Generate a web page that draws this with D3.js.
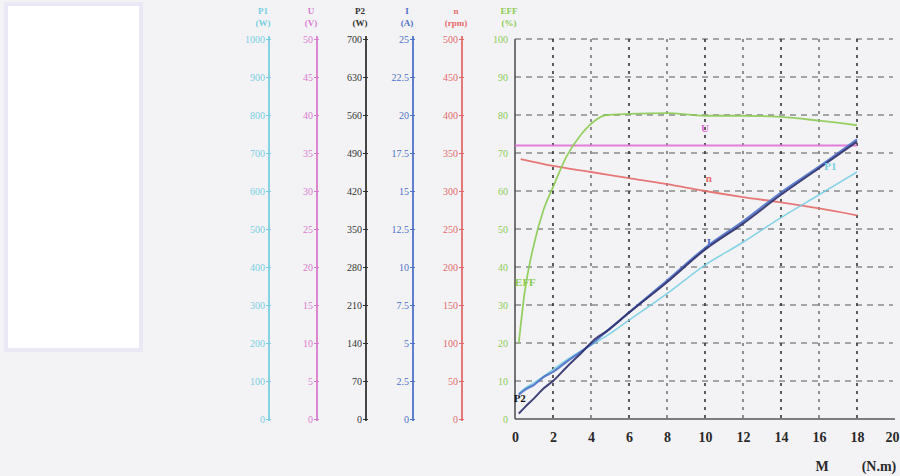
<!DOCTYPE html>
<html>
<head>
<meta charset="utf-8">
<script src="https://cdn.jsdelivr.net/npm/d3@7"></script>
<style>
	body { margin: 0; background: #f3f3f5; }
	svg { display: block; font-family: 'Liberation Serif', 'DejaVu Serif', serif; }
</style>
</head>
<body>
<svg id="chart" width="900" height="476"></svg>
<script>
// torque points used by most of the curves (N.m)
const torque = [0.2, 0.5, 1, 1.5, 2, 2.7, 3.5, 4.2, 4.8, 6, 8, 10, 12, 14, 16, 18]
const effValues = [20, 33, 46, 55, 61, 69, 75, 78.5, 80, 80.3, 80.5, 79.8, 79.8, 79.5, 78.5, 77.3]
const p1Values = [67, 80, 95, 112, 130, 155, 180, 200, 218, 260, 330, 405, 465, 530, 590, 650]
const p2Values = [10, 21, 38, 56, 70, 95, 122, 147, 161, 196, 252, 312, 360, 413, 462, 511]
const iValues = [1.6, 1.9, 2.25, 2.75, 3.1, 3.75, 4.45, 5.1, 5.75, 7, 9.1, 11.25, 13, 14.9, 16.6, 18.4]

const uTorque = [0, 4, 8, 12, 16, 18]
const uValues = [36, 36, 36, 36, 36, 36]

const nTorque = [0.3, 2, 4, 6, 8, 10, 12, 14, 16, 18]
const nValues = [342, 333, 325, 317, 309, 300, 292, 285, 277, 268]

// tick labels
const xTicks = [0, 2, 4, 6, 8, 10, 12, 14, 16, 18, 20]
const p1Ticks = [0, 100, 200, 300, 400, 500, 600, 700, 800, 900, 1000]
const uTicks = [0, 5, 10, 15, 20, 25, 30, 35, 40, 45, 50]
const p2Ticks = [0, 70, 140, 210, 280, 350, 420, 490, 560, 630, 700]
const iTicks = [0, 2.5, 5, 7.5, 10, 12.5, 15, 17.5, 20, 22.5, 25]
const nTicks = [0, 50, 100, 150, 200, 250, 300, 350, 400, 450, 500]
const effTicks = [0, 10, 20, 30, 40, 50, 60, 70, 80, 90, 100]

const green = '#8ccc55'
const cyan = '#78cfe2'
const pink = '#d97bd0'
const black = '#333333'
const blue = '#4f72c9'
const red = '#e46a6a'
const serif = 'Liberation Serif, DejaVu Serif, serif'

const svg = d3.select('#chart')

const plotTop = 39,
	plotBottom = 419,
	plotLeft = 515,
	plotRight = 895

const x = d3.scaleLinear().domain([0, 20]).range([plotLeft, plotRight])

// the odd pasted block on the left side of the picture
svg.append('rect')
	.attr('x', 6).attr('y', 4)
	.attr('width', 135).attr('height', 346)
	.attr('fill', '#ffffff')
svg.append('rect')
	.attr('x', 6).attr('y', 4)
	.attr('width', 135).attr('height', 346)
	.attr('fill', 'none')
	.attr('stroke', '#ebe8f6')
	.attr('stroke-width', 4)

// one vertical scale per quantity
const axes = [
	{ name: 'P1', unit: '(W)', ticks: p1Ticks, color: cyan, pos: 269 },
	{ name: 'U', unit: '(V)', ticks: uTicks, color: pink, pos: 317 },
	{ name: 'P2', unit: '(W)', ticks: p2Ticks, color: black, pos: 366 },
	{ name: 'I', unit: '(A)', ticks: iTicks, color: blue, pos: 413 },
	{ name: 'n', unit: '(rpm)', ticks: nTicks, color: red, pos: 462 },
	{ name: 'EFF', unit: '(%)', ticks: effTicks, color: green, pos: plotLeft }
]

axes.forEach(function(a) {
	a.scale = d3.scaleLinear()
		.domain([0, a.ticks[a.ticks.length - 1]])
		.range([plotBottom, plotTop])
})

const scaleOf = name => axes.find(a => a.name === name).scale

// grid
const grid = svg.append('g')
grid.selectAll('.vgrid')
	.data(xTicks.filter(d => d > 0 && d < 20))
	.enter()
	.append('line')
	.attr('x1', d => x(d)).attr('x2', d => x(d))
	.attr('y1', plotTop).attr('y2', plotBottom)
	.attr('stroke', '#222')
	.attr('stroke-width', 1.6)
	.attr('stroke-dasharray', '3,5')
	.attr('opacity', (d, i) => (i % 2 === 0 ? 0.9 : 0.6))

grid.selectAll('.hgrid')
	.data(effTicks.filter(d => d > 0))
	.enter()
	.append('line')
	.attr('x1', plotLeft).attr('x2', plotRight - 2)
	.attr('y1', d => scaleOf('EFF')(d)).attr('y2', d => scaleOf('EFF')(d))
	.attr('stroke', '#333')
	.attr('stroke-width', 1.2)
	.attr('stroke-dasharray', '6,5')
	.attr('opacity', 0.8)

// frame: left and bottom
svg.append('line')
	.attr('x1', plotLeft).attr('x2', plotLeft).attr('y1', plotTop).attr('y2', plotBottom)
	.attr('stroke', '#555').attr('stroke-width', 1.6)
svg.append('line')
	.attr('x1', plotLeft).attr('x2', plotRight).attr('y1', plotBottom).attr('y2', plotBottom)
	.attr('stroke', '#555').attr('stroke-width', 1.6)

// left axes
axes.forEach(function(a) {
	const g = svg.append('g').attr('transform', `translate(${a.pos},0)`)
	const axis = d3.axisLeft(a.scale)
		.tickValues(a.ticks)
		.tickSize(3)
		.tickSizeOuter(0)
		.tickPadding(2)
		.tickFormat(d3.format('~g'))
	g.call(axis)
	g.attr('font-family', serif)
	g.select('.domain')
		.attr('stroke', a.name === 'EFF' ? 'none' : a.color)
		.attr('stroke-width', 1.8)
		.attr('d', `M0,${plotBottom + 2}V${plotTop - 3}`)
	g.selectAll('.tick line')
		.attr('stroke', a.color)
		.attr('x2', a.name === 'EFF' ? 0 : -3)
		.attr('x1', a.name === 'EFF' ? 0 : 2)
	g.selectAll('.tick text')
		.attr('fill', a.color)
		.attr('font-size', 10)
		.attr('x', a.name === 'EFF' ? -7 : -4)
	g.append('text')
		.attr('x', -6).attr('y', 14)
		.attr('text-anchor', 'middle')
		.attr('fill', a.color)
		.attr('font-size', 9)
		.attr('font-weight', 'bold')
		.text(a.name)
	g.append('text')
		.attr('x', -6).attr('y', 26)
		.attr('text-anchor', 'middle')
		.attr('fill', a.color)
		.attr('font-size', 9)
		.attr('font-weight', 'bold')
		.text(a.unit)
})

// x axis
const xAxis = svg.append('g').attr('transform', `translate(0,${plotBottom})`)
	.call(d3.axisBottom(x).tickValues(xTicks).tickSize(0).tickPadding(13))
xAxis.attr('font-family', serif)
xAxis.select('.domain').remove()
xAxis.selectAll('.tick text')
	.attr('fill', '#2a2a2a')
	.attr('font-size', 14)
	.attr('font-weight', 'bold')
	.attr('dx', d => (d === 20 ? -3 : 0))

svg.append('text')
	.attr('x', 822).attr('y', 471)
	.attr('text-anchor', 'middle')
	.attr('fill', '#2a2a2a').attr('font-size', 14).attr('font-weight', 'bold')
	.text('M')
svg.append('text')
	.attr('x', 879).attr('y', 471)
	.attr('text-anchor', 'middle')
	.attr('fill', '#2a2a2a').attr('font-size', 14).attr('font-weight', 'bold')
	.text('(N.m)')

// curves
const series = [
	{ name: 'U', xs: uTorque, ys: uValues, color: '#e070d6', width: 2 },
	{ name: 'n', xs: nTorque, ys: nValues, color: red, width: 1.8 },
	{ name: 'EFF', xs: torque, ys: effValues, color: green, width: 1.8 },
	{ name: 'P1', xs: torque, ys: p1Values, color: cyan, width: 1.6 },
	{ name: 'I', xs: torque, ys: iValues, color: blue, width: 2.2 },
	{ name: 'P2', xs: torque, ys: p2Values, color: '#2e2f6a', width: 2 }
]

series.forEach(function(s) {
	const y = scaleOf(s.name)
	const line = d3.line()
		.x(d => x(d[0]))
		.y(d => y(d[1]))
		.curve(d3.curveMonotoneX)
	svg.append('path')
		.datum(d3.zip(s.xs, s.ys))
		.attr('d', line)
		.attr('fill', 'none')
		.attr('stroke', s.color)
		.attr('stroke-width', s.width)
		.attr('opacity', 0.9)
})

// curve names
const curveLabels = [
	{ text: 'U', m: 10, name: 'U', v: 37.8, color: '#e070d6' },
	{ text: 'n', m: 10.2, name: 'n', v: 312, color: red },
	{ text: 'I', m: 10.2, name: 'I', v: 11.4, color: blue },
	{ text: 'P1', m: 16.6, name: 'P1', v: 655, color: cyan },
	{ text: 'EFF', m: 0.55, name: 'EFF', v: 35, color: green },
	{ text: 'P2', m: 0.25, name: 'P2', v: 31, color: '#111' }
]

svg.selectAll('.curve-label')
	.data(curveLabels)
	.enter()
	.append('text')
	.attr('x', d => x(d.m))
	.attr('y', d => scaleOf(d.name)(d.v))
	.attr('text-anchor', 'middle')
	.attr('fill', d => d.color)
	.attr('font-size', 11)
	.attr('font-weight', 'bold')
	.text(d => d.text)
</script>
</body>
</html>
